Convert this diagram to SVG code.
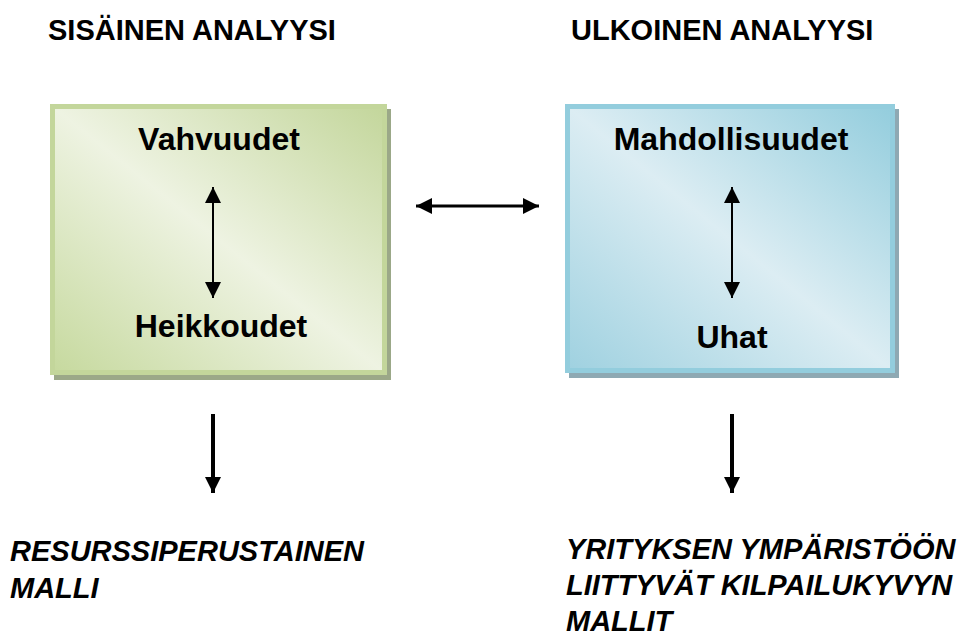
<svg xmlns="http://www.w3.org/2000/svg" width="960" height="638" viewBox="0 0 960 638">
<defs>
<linearGradient id="gGreen" x1="0" y1="1" x2="1" y2="0">
<stop offset="0" stop-color="#c6d99e"/>
<stop offset="0.5" stop-color="#eef3e2"/>
<stop offset="1" stop-color="#c3d69b"/>
</linearGradient>
<linearGradient id="gBlue" x1="0" y1="1" x2="1" y2="0">
<stop offset="0" stop-color="#9fd1e0"/>
<stop offset="0.5" stop-color="#dcedf3"/>
<stop offset="1" stop-color="#93cddd"/>
</linearGradient>
<marker id="ah" viewBox="0 0 10 10" refX="10" refY="5" markerWidth="16" markerHeight="16" markerUnits="userSpaceOnUse" orient="auto-start-reverse">
<path d="M0,0 L10,5 L0,10 Z" fill="#000"/>
</marker>
</defs>
<style>
text{font-family:"Liberation Sans",Arial,sans-serif;font-weight:bold;fill:#000}
.h{font-size:29px}
.n{font-size:32px;text-anchor:middle}
.b{font-size:29px;font-style:italic}
.c{stroke:#000;fill:none}
</style>
<rect width="960" height="638" fill="#fff"/>
<g id="heading-internal"><text class="h" x="48" y="40">SISÄINEN ANALYYSI</text></g>
<g id="heading-external"><text class="h" x="571" y="40">ULKOINEN ANALYYSI</text></g>
<g id="box-internal">
<rect x="54" y="109" width="337" height="271" fill="#9ba888"/>
<rect x="52.5" y="106.5" width="332" height="266" fill="url(#gGreen)" stroke="#c3d69b" stroke-width="5"/>
<text class="n" x="219" y="150">Vahvuudet</text>
<text class="n" x="221" y="337">Heikkoudet</text>
</g>
<g id="box-external">
<rect x="569" y="109" width="330" height="269" fill="#8ea9b3"/>
<rect x="567.5" y="106.5" width="325" height="264" fill="url(#gBlue)" stroke="#93cddd" stroke-width="5"/>
<text class="n" x="731" y="150">Mahdollisuudet</text>
<text class="n" x="732" y="348">Uhat</text>
</g>
<g id="connectors">
<line class="c" x1="213" y1="187" x2="213" y2="298" stroke-width="2" marker-start="url(#ah)" marker-end="url(#ah)"/>
<line class="c" x1="732" y1="187" x2="732" y2="298" stroke-width="2" marker-start="url(#ah)" marker-end="url(#ah)"/>
<line class="c" x1="416" y1="206" x2="539" y2="206" stroke-width="3" marker-start="url(#ah)" marker-end="url(#ah)"/>
<line class="c" x1="213" y1="414" x2="213" y2="493" stroke-width="4" marker-end="url(#ah)"/>
<line class="c" x1="732" y1="414" x2="732" y2="493" stroke-width="4" marker-end="url(#ah)"/>
</g>
<g id="result-internal">
<text class="b" x="10" y="561">RESURSSIPERUSTAINEN</text>
<text class="b" x="10" y="598">MALLI</text>
</g>
<g id="result-external">
<text class="b" x="566" y="559">YRITYKSEN YMPÄRISTÖÖN</text>
<text class="b" x="566" y="595">LIITTYVÄT KILPAILUKYVYN</text>
<text class="b" x="566" y="631">MALLIT</text>
</g>
</svg>
